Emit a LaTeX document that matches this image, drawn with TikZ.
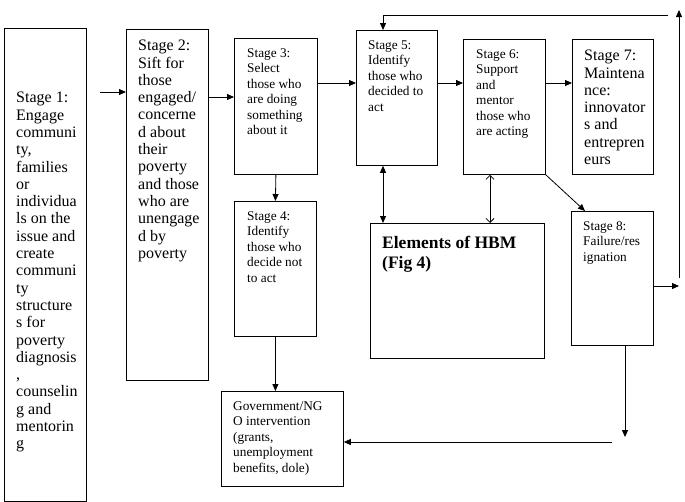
\documentclass[tikz,border=0pt]{standalone}
\usepackage{fontspec}
\setmainfont{Liberation Serif}
\usetikzlibrary{positioning,arrows.meta}
\tikzset{box/.style={draw, line width=0.8pt, inner sep=0pt, anchor=north west},
         bigtxt/.style={inner sep=0pt, align=left, font=\fontsize{16}{17.3}\selectfont},
         smalltxt/.style={inner sep=0pt, align=left, font=\fontsize{13.3}{15.5}\selectfont},
         hbmtxt/.style={inner sep=0pt, align=left, font=\fontsize{17.5}{20}\selectfont\bfseries},
         arr/.style={line width=0.8pt, -{Triangle[length=7pt,width=6pt]}},
         dblarr/.style={line width=0.8pt, {Triangle[length=7pt,width=6pt]}-{Triangle[length=7pt,width=6pt]}},
         barb/.style={line width=0.8pt, {Straight Barb[length=4pt,width=8pt]}-{Straight Barb[length=4pt,width=8pt]}}}

\begin{document}
\begin{tikzpicture}[x=1pt,y=-1pt]
                \useasboundingbox (0,0) rectangle (685,501);
                % boxes
                \node[box, minimum width=82pt, minimum height=473pt] (s1) at (4,28) {};
                \node[box, minimum width=82pt, minimum height=351pt] (s2) at (126,29) {};
                \node[box, minimum width=83pt, minimum height=136pt] (s3) at (234,38) {};
                \node[box, minimum width=82pt, minimum height=135pt] (s4) at (234,201) {};
                \node[box, minimum width=81pt, minimum height=135pt] (s5) at (356,30) {};
                \node[box, minimum width=82pt, minimum height=135pt] (s6) at (463,39) {};
                \node[box, minimum width=81pt, minimum height=135pt] (s7) at (572,39) {};
                \node[box, minimum width=82pt, minimum height=134pt] (s8) at (571,211) {};
                \node[box, minimum width=174pt, minimum height=135pt] (hbm) at (370,223) {};
                \node[box, minimum width=122pt, minimum height=95pt] (gov) at (221,391) {};
                % texts
                \node[bigtxt, below right=64pt and 12pt of s1.north west] (s1t)
                  {Stage 1:\\Engage\\communi\\ty,\\families\\or\\individua\\ls on the\\issue and\\create\\communi\\ty\\structure\\s for\\poverty\\diagnosis\\,\\counselin\\g and\\mentorin\\g};
                \node[bigtxt, below right=11pt and 12pt of s2.north west] (s2t)
                  {Stage 2:\\Sift for\\those\\engaged/\\concerne\\d about\\their\\poverty\\and those\\who are\\unengage\\d by\\poverty};
                \node[smalltxt, below right=10pt and 13pt of s3.north west] (s3t)
                  {Stage 3:\\Select\\those who\\are doing\\something\\about it};
                \node[smalltxt, below right=10pt and 13pt of s4.north west] (s4t)
                  {Stage 4:\\Identify\\those who\\decide not\\to act};
                \node[smalltxt, below right=10pt and 12pt of s5.north west] (s5t)
                  {Stage 5:\\Identify\\those who\\decided to\\act};
                \node[smalltxt, below right=10pt and 13pt of s6.north west] (s6t)
                  {Stage 6:\\Support\\and\\mentor\\those who\\are acting};
                \node[bigtxt, below right=11pt and 12pt of s7.north west] (s7t)
                  {Stage 7:\\Maintena\\nce:\\innovator\\s and\\entrepren\\eurs};
                \node[smalltxt, below right=10pt and 12pt of s8.north west] (s8t)
                  {Stage 8:\\Failure/res\\ignation};
                \node[hbmtxt, below right=13pt and 12pt of hbm.north west] (hbmt)
                  {Elements of HBM\\(Fig 4)};
                \node[smalltxt, below right=10pt and 12pt of gov.north west] (govt)
                  {Government/NG\\O intervention\\(grants,\\unemployment\\benefits, dole)};
                % connectors
                \coordinate (a1) at (100,92);
                \coordinate (r2) at (0,97);
                \coordinate (r1) at (0,83);
                \coordinate (t5) at (383,15);
                \coordinate (tl) at (668,15);
                \coordinate (rb) at (679,278);
                \coordinate (rt) at (679,10);
                \coordinate (e8) at (679,286);
                \coordinate (m6) at (490,0);
                \coordinate (d8) at (585,211);
                \coordinate (b8) at (625,437);
                \coordinate (g8) at (612,442);
                \draw[arr] (a1) -- (a1 -| s2.west);
                \draw[arr] (r2 -| s2.east) -- (r2 -| s3.west);
                \draw[arr] (r1 -| s3.east) -- (r1 -| s5.west);
                \draw[arr] (r1 -| s5.east) -- (r1 -| s6.west);
                \draw[arr] (r1 -| s6.east) -- (r1 -| s7.west);
                \draw[arr] (s3.south) -- (s4.north);
                \draw[arr] (s4.south) -- (s4.south |- gov.north);
                \draw[arr] (tl) -- (t5) -- (t5 |- s5.north);
                \draw[arr] (rb) -- (rt);
                \draw[arr] (e8 -| s8.east) -- (e8);
                \draw[dblarr] (t5 |- s5.south) -- (t5 |- hbm.north);
                \draw[barb] (m6 |- s6.south) -- (m6 |- hbm.north);
                \draw[arr] (s6.south east) -- (d8);
                \draw[arr] (b8 |- s8.south) -- (b8);
                \draw[arr] (g8) -- (g8 -| gov.east);
              \end{tikzpicture}
\end{document}
